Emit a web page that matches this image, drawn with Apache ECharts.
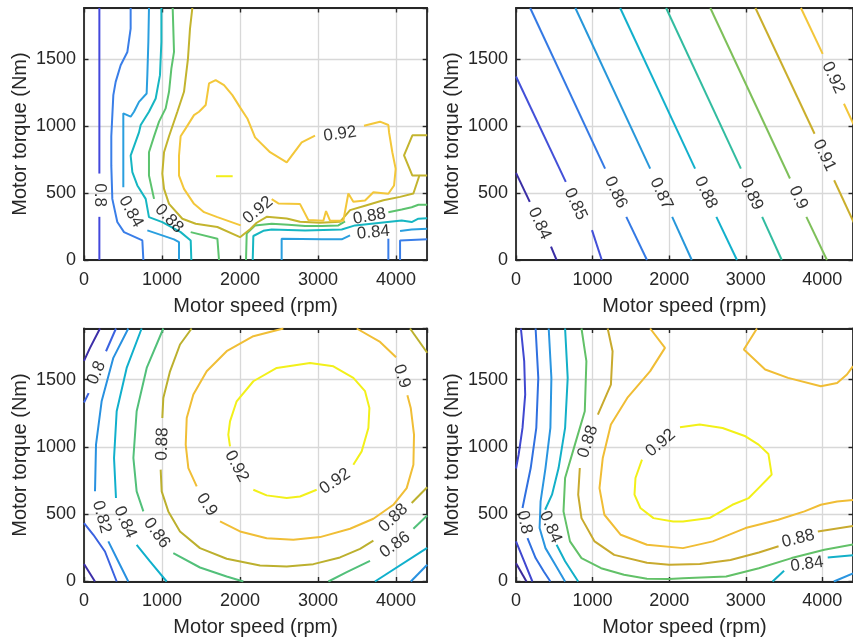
<!DOCTYPE html>
<html>
<head>
<meta charset="utf-8">
<script src="https://cdn.jsdelivr.net/npm/echarts@6/dist/echarts.min.js"></script>
<style>
  html, body { margin: 0; padding: 0; background: #fff; }
  #chart { width: 853px; height: 639px; }
</style>
</head>
<body>
<div id="chart"></div>
<script>
// Efficiency maps: motor speed (rpm) vs motor torque (Nm), four panels.
const speedMax = 4400;
const torqueMax = 1880;
const speedStep = 1000;
const torqueStep = 500;
const xTitle = 'Motor speed (rpm)';
const yTitle = 'Motor torque (Nm)';

// ---- Panel 1 (top left): measured map ----
const tlLevels = [0.8, 0.82, 0.84, 0.86, 0.88, 0.9, 0.92, 0.94];
const tlColors = ['#4348dc', '#3a7ee8', '#2a9fdf', '#16b6c2', '#5cc36e', '#c3b42e', '#f3c73a', '#f2ee1a'];
const tlLines = [
  [0.8, [[197,1880],[197,645]]],
  [0.8, [[197,322],[197,0]]],
  [0.82, [[598,1880],[598,1726],[556,1552],[470,1453],[406,1329],[376,1230],[350,923],[350,704],[363,456],[427,283],[513,208],[748,146],[761,0]]],
  [0.82, [[4052,0],[4052,146],[4400,154]]],
  [0.82, [[3902,159],[3902,0]]],
  [0.84, [[833,1880],[825,1627],[812,1379],[803,1242],[705,1180],[641,1106],[598,1069],[504,1094],[504,543]]],
  [0.84, [[812,221],[1154,154],[1218,134],[1218,0]]],
  [0.84, [[2534,0],[2534,159],[3047,154],[3304,154],[3411,184]]],
  [0.84, [[4052,216],[4201,228],[4400,233]]],
  [0.86, [[992,1880],[992,1627],[974,1379],[919,1205],[833,1106],[727,1007],[705,952],[598,779],[620,655],[684,556],[791,456],[833,320],[1004,283],[1239,208],[1368,146],[1376,0]]],
  [0.86, [[2163,0],[2171,179],[2299,218],[2406,228],[2834,221],[3304,228],[3475,258],[4073,295],[4201,283],[4287,308],[4400,312]]],
  [0.88, [[1137,1880],[1145,1726],[1154,1552],[1120,1428],[1090,1255],[1047,1131],[962,1032],[898,922],[833,804],[833,630],[898,456]]],
  [0.88, [[1368,208],[1710,159],[1731,0]]],
  [0.88, [[2077,0],[2086,198],[2193,258],[2406,270],[2620,263],[2834,253],[3047,253],[3261,258],[3347,288]]],
  [0.88, [[3902,357],[4073,377],[4201,394],[4287,412],[4400,412]]],
  [0.9, [[1389,1880],[1359,1726],[1333,1503],[1282,1255],[1197,1106],[1090,923],[1026,804],[1004,645],[1026,531],[1090,419],[1261,308],[1432,270],[1710,246],[2000,170],[2137,233],[2214,278],[2342,322],[2599,310],[2770,285],[3026,278],[3282,285],[3411,372],[3624,409],[3838,446],[4052,471],[4223,496],[4300,630],[4400,630]]],
  [0.9, [[4400,930],[4210,930],[4103,781],[4210,630],[4300,630]]],
  [0.92, [[2962,928],[2791,878],[2599,729],[2385,804],[2193,915],[2094,1056],[2009,1131],[1902,1230],[1795,1304],[1688,1342],[1603,1317],[1560,1156],[1475,1106],[1410,1081],[1304,982],[1239,923],[1218,779],[1218,630],[1282,531],[1410,419],[1539,357],[1710,320],[2009,258]]],
  [0.92, [[2406,454],[2492,422],[2770,417],[2876,298],[3069,293],[3103,365],[3154,293],[3325,293],[3389,496],[3453,434],[3603,444],[3710,506],[3902,494],[3975,556],[3996,680],[3953,804],[3911,952],[3902,1007],[3795,1032],[3590,1002]]],
  [0.94, [[1692,625],[1906,625]]]
];
const tlLabels = [
  [197, 484, 0.8, -90],
  [600, 360, 0.84, -61],
  [1090, 308, 0.88, -46],
  [2230, 372, 0.92, 40],
  [3282, 940, 0.92, 8],
  [3660, 325, 0.88, 10],
  [3710, 205, 0.84, 5]
];

// ---- Panel 2 (top right): linear map ----
const trLevels = [0.84, 0.85, 0.86, 0.87, 0.88, 0.89, 0.9, 0.91, 0.92];
const trColors = ['#3a2ea5', '#4350d8', '#3479e4', '#2797da', '#12b0cc', '#32bca0', '#7ec05a', '#caae2c', '#f3c63a'];
const trLines = [
  [0.84, [[0,650],[180,434]]],
  [0.84, [[457,99],[530,0]]],
  [0.85, [[0,1369],[650,583]]],
  [0.85, [[992,223],[1120,0]]],
  [0.86, [[185,1880],[1163,682]]],
  [0.86, [[1440,322],[1710,0]]],
  [0.87, [[775,1880],[1752,682]]],
  [0.87, [[2039,322],[2295,0]]],
  [0.88, [[1360,1880],[2338,682]]],
  [0.88, [[2616,322],[2885,0]]],
  [0.89, [[1960,1880],[2936,682]]],
  [0.89, [[3214,322],[3470,0]]],
  [0.9, [[2537,1880],[3577,608]]],
  [0.9, [[3791,322],[4060,0]]],
  [0.91, [[3126,1880],[3898,942]]],
  [0.91, [[4154,595],[4450,230]]],
  [0.92, [[3720,1880],[4004,1538]]],
  [0.92, [[4282,1166],[4450,960]]]
];
const trLabels = [
  [308, 272, 0.84, -65],
  [778, 418, 0.85, -65],
  [1301, 504, 0.86, -65],
  [1896, 495, 0.87, -65],
  [2477, 503, 0.88, -65],
  [3075, 492, 0.89, -65],
  [3684, 465, 0.9, -65],
  [4026, 780, 0.91, -65],
  [4143, 1360, 0.92, -65]
];

// ---- Panel 3 (bottom left): elliptical map ----
const blLevels = [0.78, 0.8, 0.82, 0.84, 0.86, 0.88, 0.9, 0.92];
const blColors = ['#3c2ea8', '#3a62e0', '#2891e0', '#10b0cc', '#52c07a', '#bcb02e', '#f0be36', '#f2f01a'];
const blLines = [
  [0.78, [[0,1640],[77,1736],[205,1880]]],
  [0.78, [[0,130],[141,0]]],
  [0.8, [[0,1330],[60,1400]]],
  [0.8, [[282,1711],[410,1880]]],
  [0.8, [[0,434],[120,347],[269,223],[419,0]]],
  [0.82, [[568,1880],[376,1662],[226,1339],[154,1017],[141,670]]],
  [0.82, [[312,298],[440,149],[568,0]]],
  [0.82, [[4190,0],[4400,125]]],
  [0.84, [[739,1880],[547,1587],[419,1265],[385,918],[410,620]]],
  [0.84, [[675,273],[846,149],[1060,0]]],
  [0.84, [[3730,0],[4400,250]]],
  [0.86, [[1017,1880],[804,1587],[675,1265],[633,918],[675,670],[761,521]]],
  [0.86, [[1145,211],[1487,104],[1829,37],[2043,0]]],
  [0.86, [[3133,0],[3368,69],[3667,154]]],
  [0.86, [[4223,392],[4400,490]]],
  [0.88, [[1380,1880],[1231,1761],[1103,1562],[1017,1364],[1004,1215]]],
  [0.88, [[983,831],[996,670],[1081,521],[1231,372],[1487,248],[1829,169],[2257,119],[2599,112],[2941,129],[3282,179],[3539,243],[3710,303]]],
  [0.88, [[4201,583],[4400,700]]],
  [0.88, [[4180,1880],[4400,1700]]],
  [0.9, [[2556,1880],[2171,1823],[1829,1711],[1573,1562],[1402,1389],[1317,1215],[1304,1017],[1338,843],[1445,707]]],
  [0.9, [[1744,446],[2000,372],[2342,322],[2684,310],[3026,330],[3411,392],[3710,466],[3966,570],[4137,694],[4223,868],[4231,1091],[4189,1290],[4146,1384]]],
  [0.9, [[4001,1666],[3796,1780],[3496,1880]]],
  [0.92, [[1872,1004],[1850,1091],[1872,1190],[1957,1339],[2171,1488],[2471,1587],[2898,1624],[3197,1599],[3453,1513],[3603,1414],[3659,1290],[3646,1141],[3560,967],[3453,868]]],
  [0.92, [[2983,682],[2770,632],[2599,620],[2342,640],[2171,682]]]
];
const blLabels = [
  [162, 1550, 0.8, 67],
  [226, 480, 0.82, -75],
  [526, 441, 0.84, -66],
  [932, 360, 0.86, -54],
  [1004, 1022, 0.88, 88],
  [1573, 570, 0.9, -56],
  [1957, 856, 0.92, -62],
  [3218, 744, 0.92, 34],
  [4073, 1525, 0.9, -73],
  [3966, 471, 0.88, 44],
  [3988, 273, 0.86, 36]
];

// ---- Panel 4 (bottom right): skewed map ----
const brLevels = [0.76, 0.78, 0.8, 0.82, 0.84, 0.86, 0.88, 0.9, 0.92];
const brColors = ['#3b2a9a', '#4048d0', '#3070e0', '#2a95e0', '#13b0c8', '#62c168', '#c8aa2e', '#f0bd35', '#f2f018'];
const brLines = [
  [0.76, [[0,136],[137,0]]],
  [0.78, [[64,1880],[107,1637],[120,1389],[85,1141],[34,942],[0,840]]],
  [0.78, [[0,298],[107,149],[214,0]]],
  [0.8, [[256,1880],[291,1513],[265,1141],[192,843],[120,645],[85,546]]],
  [0.8, [[150,322],[256,174],[363,74],[449,0]]],
  [0.82, [[427,1880],[462,1513],[449,1141],[385,843],[321,595],[308,397],[385,248],[513,124],[641,0]]],
  [0.82, [[4150,0],[4400,60]]],
  [0.84, [[641,1880],[675,1513],[641,1141],[556,843],[470,645],[380,533]]],
  [0.84, [[530,273],[641,150],[812,0]]],
  [0.84, [[3350,0],[3500,80]]],
  [0.84, [[4070,178],[4400,196]]],
  [0.86, [[855,1880],[919,1637],[898,1265],[769,1017],[641,769],[620,521],[705,298],[855,174],[1111,99],[1410,50],[1710,20],[2000,18],[2180,25],[2744,37],[3171,99],[3599,174],[4026,236],[4400,275]]],
  [0.88, [[1197,1880],[1261,1711],[1239,1463],[1069,1240]]],
  [0.88, [[833,843],[812,645],[855,471],[1026,298],[1282,198],[1710,140],[2000,125],[2400,130],[2800,160],[3171,215],[3428,262]]],
  [0.88, [[3941,372],[4400,412]]],
  [0.9, [[1752,1880],[1945,1736],[1752,1563],[1453,1364],[1239,1166],[1133,918],[1090,694],[1154,496],[1368,347],[1710,273],[2180,248],[2569,298],[2996,397],[3424,459],[3766,521],[3980,570],[4193,595],[4400,605]]],
  [0.9, [[3146,1880],[2975,1724],[3253,1575],[3552,1513],[3980,1451],[4193,1475],[4321,1538],[4400,1600]]],
  [0.92, [[1645,905],[1560,769],[1547,645],[1624,546],[1795,471],[2052,446],[2180,446],[2526,471],[2825,570],[3039,620],[3167,694],[3274,756],[3338,794],[3296,947],[3167,1017],[2996,1079],[2697,1141],[2398,1166],[2141,1146]]]
];
const brLabels = [
  [110, 440, 0.8, -78],
  [450, 405, 0.84, -66],
  [940, 1040, 0.88, 72],
  [1889, 1029, 0.92, 40],
  [3684, 318, 0.88, 14],
  [3800, 128, 0.84, 8]
];

// ---- layout and styling ----
const FONT = '"Liberation Sans", Arial, Helvetica, sans-serif';
const INK = '#262626';
const plain = v => String(v);
const panels = [
  { rect: { left: 84, top: 8, width: 343.2, height: 252 }, levels: tlLevels, colors: tlColors, lines: tlLines, labels: tlLabels },
  { rect: { left: 516, top: 8, width: 343.2, height: 252 }, levels: trLevels, colors: trColors, lines: trLines, labels: trLabels },
  { rect: { left: 84, top: 328.5, width: 343.2, height: 253 }, levels: blLevels, colors: blColors, lines: blLines, labels: blLabels },
  { rect: { left: 516, top: 328.5, width: 343.2, height: 253 }, levels: brLevels, colors: brColors, lines: brLines, labels: brLabels }
];

const grid = [], xAxis = [], yAxis = [], series = [];

panels.forEach((p, i) => {
  grid.push(Object.assign({ containLabel: false }, p.rect));

  const boxLine = { show: true, onZero: false, lineStyle: { color: INK, width: 1.8 } };
  const tick = { show: true, inside: true, length: 4.5, lineStyle: { color: INK, width: 1.4 } };

  // bottom / left axes carry labels and grid lines
  xAxis.push({
    gridIndex: i, type: 'value', min: 0, max: speedMax, interval: speedStep, position: 'bottom',
    axisLine: boxLine, axisTick: tick,
    axisLabel: { color: INK, fontSize: 18, fontFamily: FONT, margin: 11, showMaxLabel: false, formatter: plain },
    splitLine: { show: true, lineStyle: { color: '#d8d8d8', width: 1.3 } },
    name: xTitle, nameLocation: 'middle', nameGap: 36,
    nameTextStyle: { color: INK, fontSize: 20, fontFamily: FONT }
  });
  yAxis.push({
    gridIndex: i, type: 'value', min: 0, max: torqueMax, interval: torqueStep, position: 'left',
    axisLine: boxLine, axisTick: tick,
    axisLabel: { color: INK, fontSize: 18, fontFamily: FONT, margin: 8, showMaxLabel: false, formatter: plain },
    splitLine: { show: true, lineStyle: { color: '#d8d8d8', width: 1.3 } },
    name: yTitle, nameLocation: 'middle', nameGap: 54, nameRotate: 90,
    nameTextStyle: { color: INK, fontSize: 20, fontFamily: FONT }
  });
  // top / right axes close the box
  xAxis.push({
    gridIndex: i, type: 'value', min: 0, max: speedMax, interval: speedStep, position: 'top',
    axisLine: boxLine, axisTick: tick, axisLabel: { show: false }, splitLine: { show: false }
  });
  yAxis.push({
    gridIndex: i, type: 'value', min: 0, max: torqueMax, interval: torqueStep, position: 'right',
    axisLine: boxLine, axisTick: tick, axisLabel: { show: false }, splitLine: { show: false }
  });

  const xi = i * 2, yi = i * 2;
  p.lines.forEach(([level, pts]) => {
    series.push({
      type: 'line', xAxisIndex: xi, yAxisIndex: yi, data: pts,
      symbol: 'none', smooth: false, silent: true, z: 3,
      lineStyle: { color: p.colors[p.levels.indexOf(level)], width: 2 }
    });
  });
  series.push({
    type: 'scatter', xAxisIndex: xi, yAxisIndex: yi, symbolSize: 0, silent: true, z: 4,
    label: { show: true, position: 'inside', color: '#000', fontSize: 17, fontFamily: FONT },
    data: p.labels.map(([x, y, level, angle]) => ({
      value: [x, y],
      label: { rotate: angle, formatter: String(level) }
    }))
  });
});

const chart = echarts.init(document.getElementById('chart'), null, { renderer: 'canvas' });
chart.setOption({ animation: false, backgroundColor: '#ffffff', grid, xAxis, yAxis, series });
</script>
</body>
</html>
